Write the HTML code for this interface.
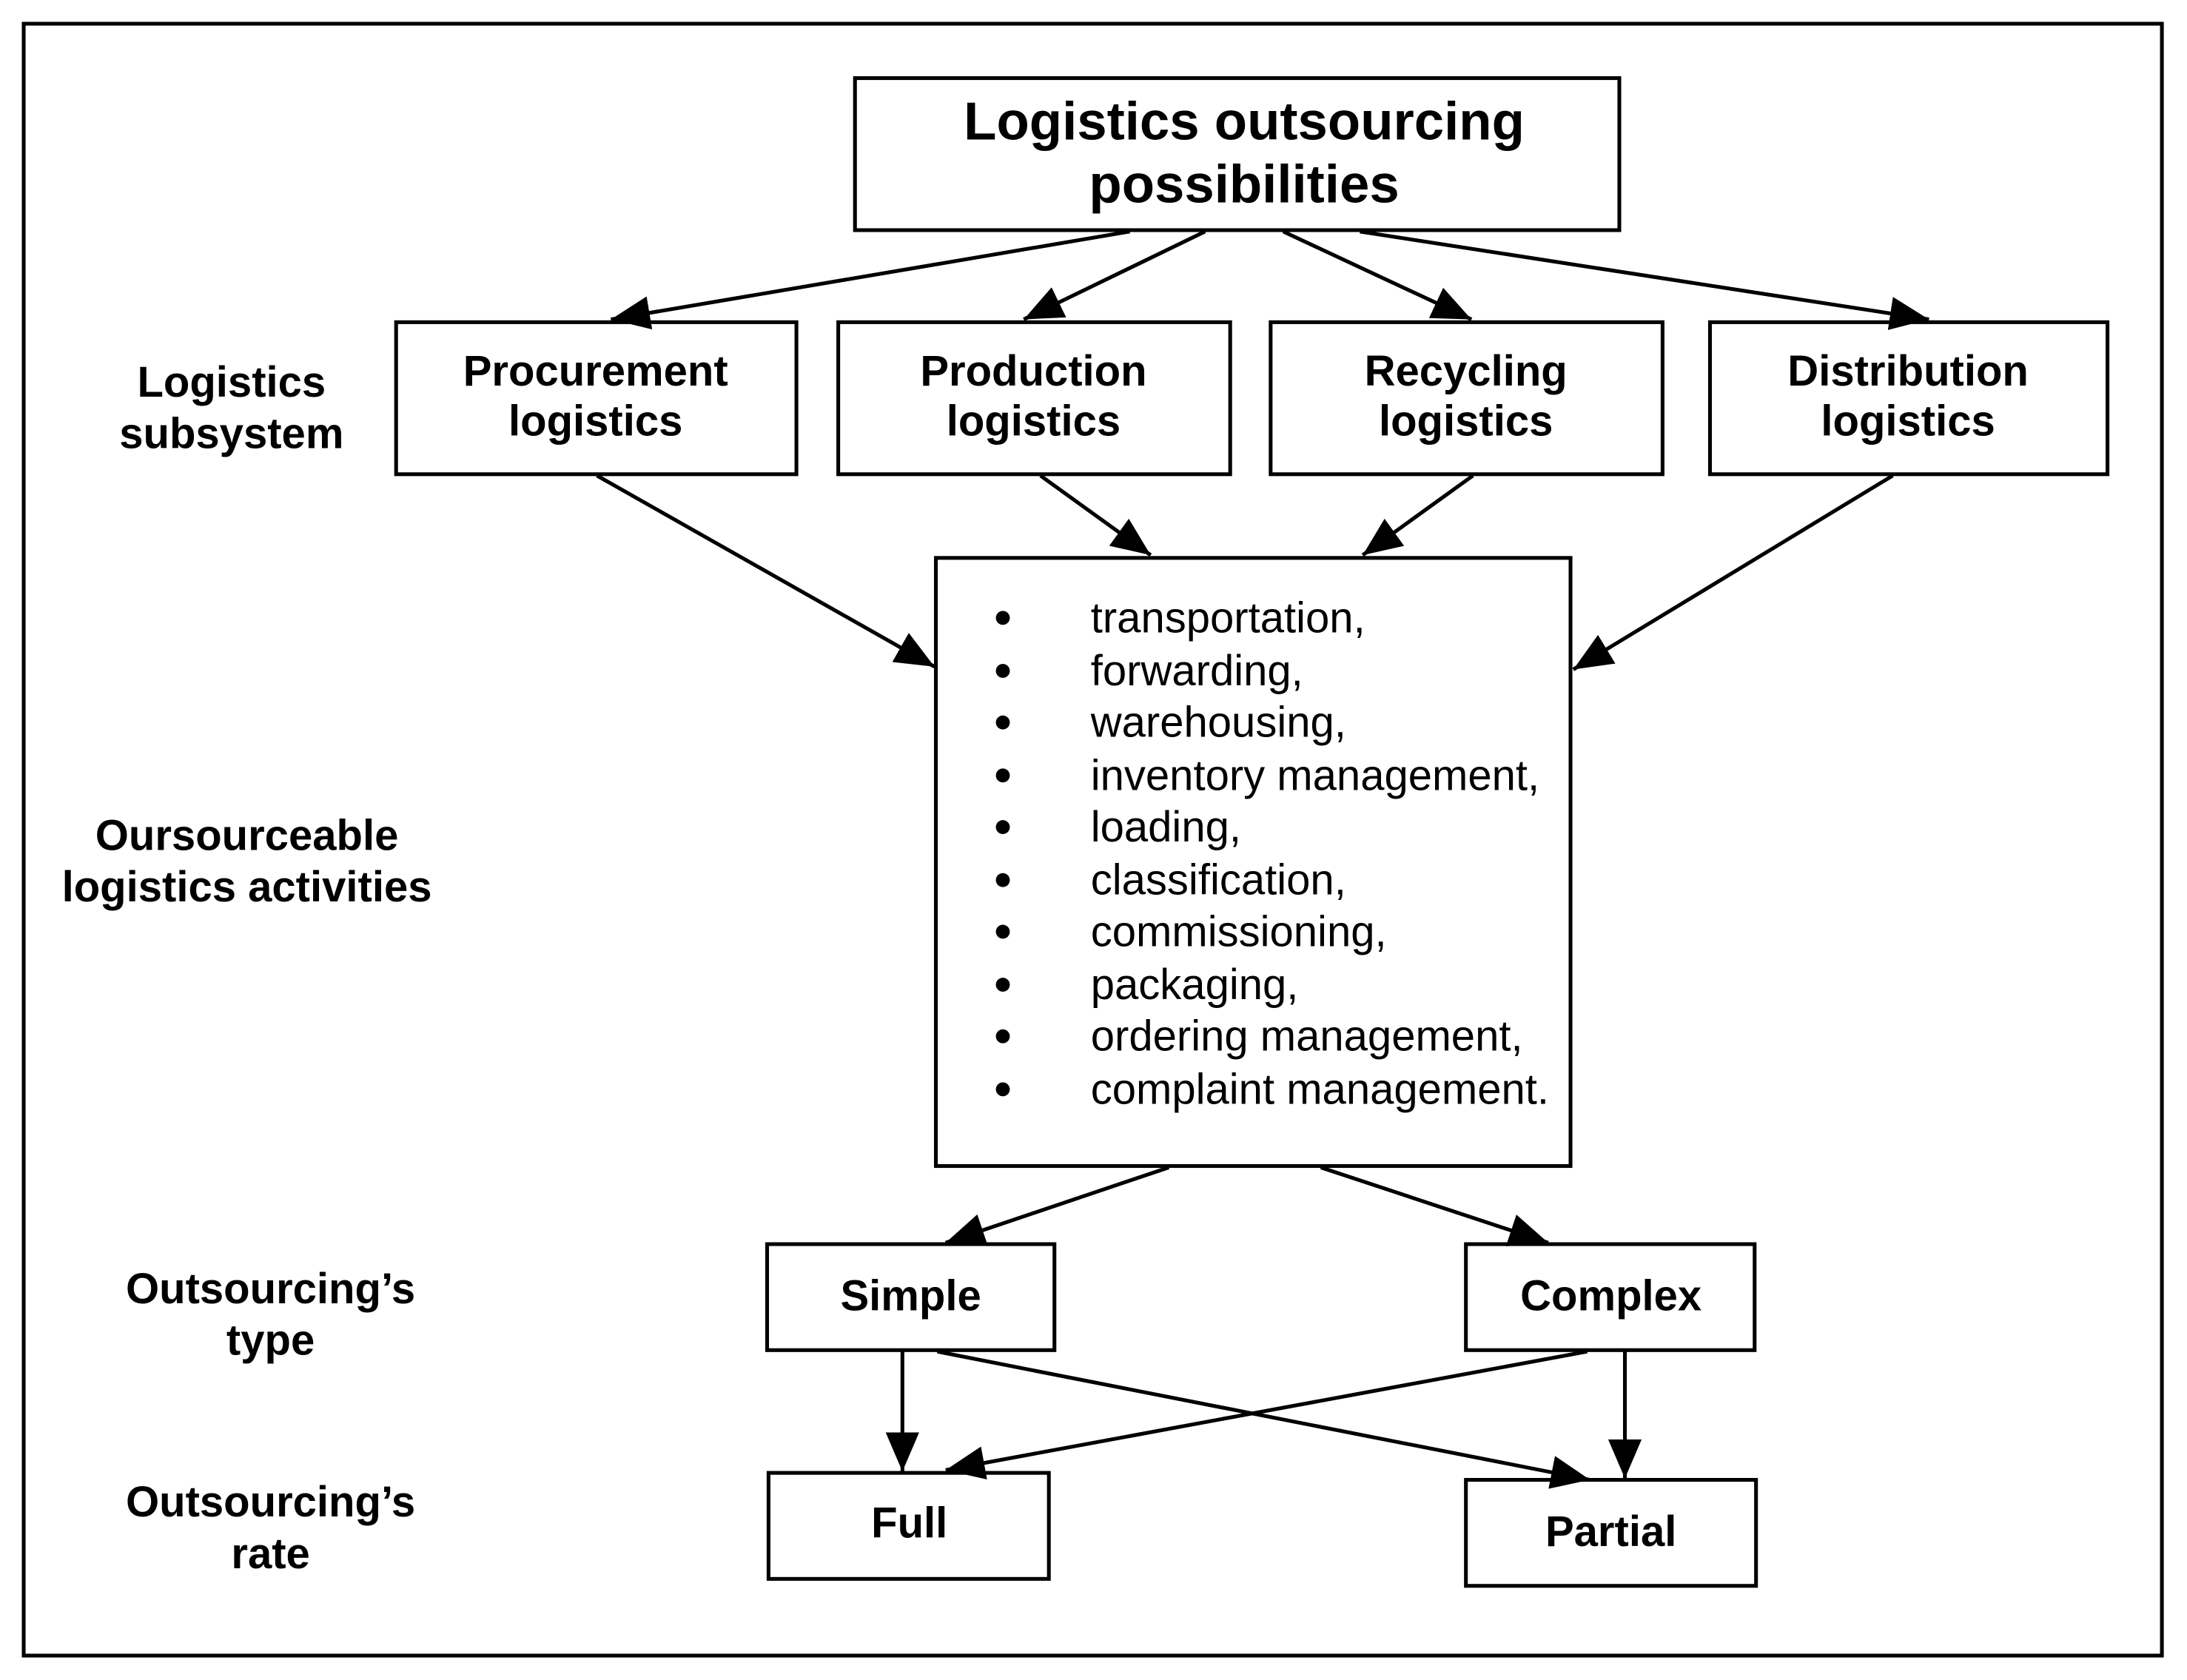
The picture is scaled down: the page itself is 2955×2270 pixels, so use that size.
<!DOCTYPE html>
<html><head><meta charset="utf-8"><style>
html,body{margin:0;padding:0;background:#fff;}
svg{display:block;}
text{font-family:"Liberation Sans",Arial,sans-serif;fill:#000;}
.b{font-weight:bold;font-size:30.8px;text-anchor:middle;dominant-baseline:central;}
.t{font-weight:bold;font-size:38.5px;text-anchor:middle;dominant-baseline:central;}
.r{font-size:30.8px;dominant-baseline:central;}
</style></head><body>
<svg width="2955" height="2270" viewBox="0 0 1568 1204.5" preserveAspectRatio="none" xmlns="http://www.w3.org/2000/svg">
<defs>
<marker id="a" markerUnits="userSpaceOnUse" markerWidth="30" markerHeight="26" refX="28" refY="12" orient="auto">
<path d="M0,0 L28,12 L0,24 Z" fill="#000"/>
</marker>
</defs>
<rect x="17" y="17" width="1533" height="1170" fill="none" stroke="#000" stroke-width="2.7"/>
<g fill="#fff" stroke="#000" stroke-width="2.7">
<rect x="613" y="56" width="548" height="109"/>
<rect x="284" y="231" width="287" height="109"/>
<rect x="601" y="231" width="281" height="109"/>
<rect x="911" y="231" width="281" height="109"/>
<rect x="1226" y="231" width="285" height="109"/>
<rect x="671" y="400" width="455" height="436"/>
<rect x="550" y="892" width="206" height="76"/>
<rect x="1051" y="892" width="207" height="76"/>
<rect x="551" y="1056" width="201" height="76"/>
<rect x="1051" y="1061" width="208" height="76"/>
</g>
<g stroke="#000" stroke-width="2.7" marker-end="url(#a)">
<line x1="810" y1="166" x2="438" y2="229"/>
<line x1="864" y1="166" x2="734" y2="229"/>
<line x1="920" y1="166" x2="1055" y2="229"/>
<line x1="975" y1="166" x2="1383" y2="229"/>
<line x1="428" y1="341" x2="670" y2="478"/>
<line x1="746" y1="341" x2="825" y2="398"/>
<line x1="1056" y1="341" x2="977" y2="398"/>
<line x1="1357" y1="341" x2="1128" y2="480"/>
<line x1="838" y1="837" x2="678" y2="891"/>
<line x1="947" y1="837" x2="1110" y2="891"/>
<line x1="647" y1="969" x2="647" y2="1055"/>
<line x1="672" y1="969" x2="1140" y2="1061"/>
<line x1="1138" y1="969" x2="678" y2="1054"/>
<line x1="1165" y1="969" x2="1165" y2="1060"/>
</g>
<text class="t" x="892" y="87">Logistics outsourcing</text>
<text class="t" x="892" y="132">possibilities</text>
<text class="b" x="427" y="266">Procurement</text><text class="b" x="427" y="302">logistics</text>
<text class="b" x="741" y="266">Production</text><text class="b" x="741" y="302">logistics</text>
<text class="b" x="1051" y="266">Recycling</text><text class="b" x="1051" y="302">logistics</text>
<text class="b" x="1368" y="266">Distribution</text><text class="b" x="1368" y="302">logistics</text>
<text class="b" x="166" y="274">Logistics</text><text class="b" x="166" y="311">subsystem</text>
<text class="b" x="177" y="599">Oursourceable</text><text class="b" x="177" y="636">logistics activities</text>
<text class="b" x="194" y="924">Outsourcing’s</text><text class="b" x="194" y="961">type</text>
<text class="b" x="194" y="1077">Outsourcing’s</text><text class="b" x="194" y="1114">rate</text>
<text class="b" x="653" y="929">Simple</text>
<text class="b" x="1155" y="929">Complex</text>
<text class="b" x="652" y="1092">Full</text>
<text class="b" x="1155" y="1098">Partial</text>
<g fill="#000">
<circle cx="719" cy="443" r="5"/><circle cx="719" cy="481" r="5"/><circle cx="719" cy="518" r="5"/><circle cx="719" cy="556" r="5"/><circle cx="719" cy="593" r="5"/><circle cx="719" cy="631" r="5"/><circle cx="719" cy="668" r="5"/><circle cx="719" cy="706" r="5"/><circle cx="719" cy="743" r="5"/><circle cx="719" cy="781" r="5"/>
</g>
<text class="r" x="782" y="443">transportation,</text>
<text class="r" x="782" y="481">forwarding,</text>
<text class="r" x="782" y="518">warehousing,</text>
<text class="r" x="782" y="556">inventory management,</text>
<text class="r" x="782" y="593">loading,</text>
<text class="r" x="782" y="631">classification,</text>
<text class="r" x="782" y="668">commissioning,</text>
<text class="r" x="782" y="706">packaging,</text>
<text class="r" x="782" y="743">ordering management,</text>
<text class="r" x="782" y="781">complaint management.</text>
</svg>
</body></html>
